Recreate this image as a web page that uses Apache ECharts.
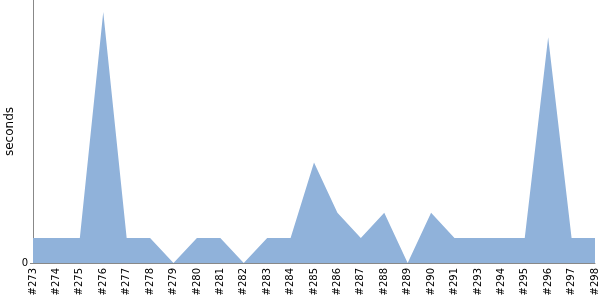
<!DOCTYPE html>
<html>
<head>
<meta charset="utf-8">
<script src="https://cdn.jsdelivr.net/npm/echarts@6/dist/echarts.min.js"></script>
<style>html,body{margin:0;padding:0;background:#fff}#c{width:600px;height:300px}</style>
</head>
<body>
<div id="c"></div>
<script>
var categories = ['#273','#274','#275','#276','#277','#278','#279','#280','#281','#282','#283','#284','#285','#286','#287','#288','#289','#290','#291','#293','#294','#295','#296','#297','#298'];
var seconds = [1,1,1,10,1,1,0,1,1,0,1,1,4,2,1,2,0,2,1,1,1,1,9,1,1];
var yTicks = [0];

var chart = echarts.init(document.getElementById('c'), null, {renderer: 'canvas'});
chart.setOption({
  animation: false,
  grid: {left: 33, right: 5, top: 0, bottom: 37, containLabel: false, outerBoundsMode: 'none'},
  xAxis: {
    type: 'category',
    data: categories,
    boundaryGap: false,
    axisLine: {lineStyle: {color: '#888', width: 1}},
    axisTick: {show: false},
    axisLabel: {rotate: 90, color: '#000', fontSize: 10, fontFamily: 'DejaVu Sans', margin: 5, interval: 0}
  },
  yAxis: {
    type: 'value',
    min: 0,
    max: 10.48,
    name: 'seconds',
    nameLocation: 'middle',
    nameGap: 17,
    nameMoveOverlap: false,
    nameTextStyle: {color: '#000', fontSize: 12, fontFamily: 'DejaVu Sans'},
    axisLine: {show: true, lineStyle: {color: '#888', width: 1}},
    axisTick: {show: true, length: 3, customValues: yTicks, lineStyle: {color: '#888'}},
    splitLine: {show: false},
    axisLabel: {
      color: '#000', fontSize: 10, fontFamily: 'DejaVu Sans', margin: 5,
      customValues: yTicks
    }
  },
  series: [{
    type: 'line',
    data: seconds,
    symbol: 'none',
    lineStyle: {width: 0, color: '#90b2da'},
    areaStyle: {color: '#90b2da', opacity: 1}
  }]
});
</script>
</body>
</html>
